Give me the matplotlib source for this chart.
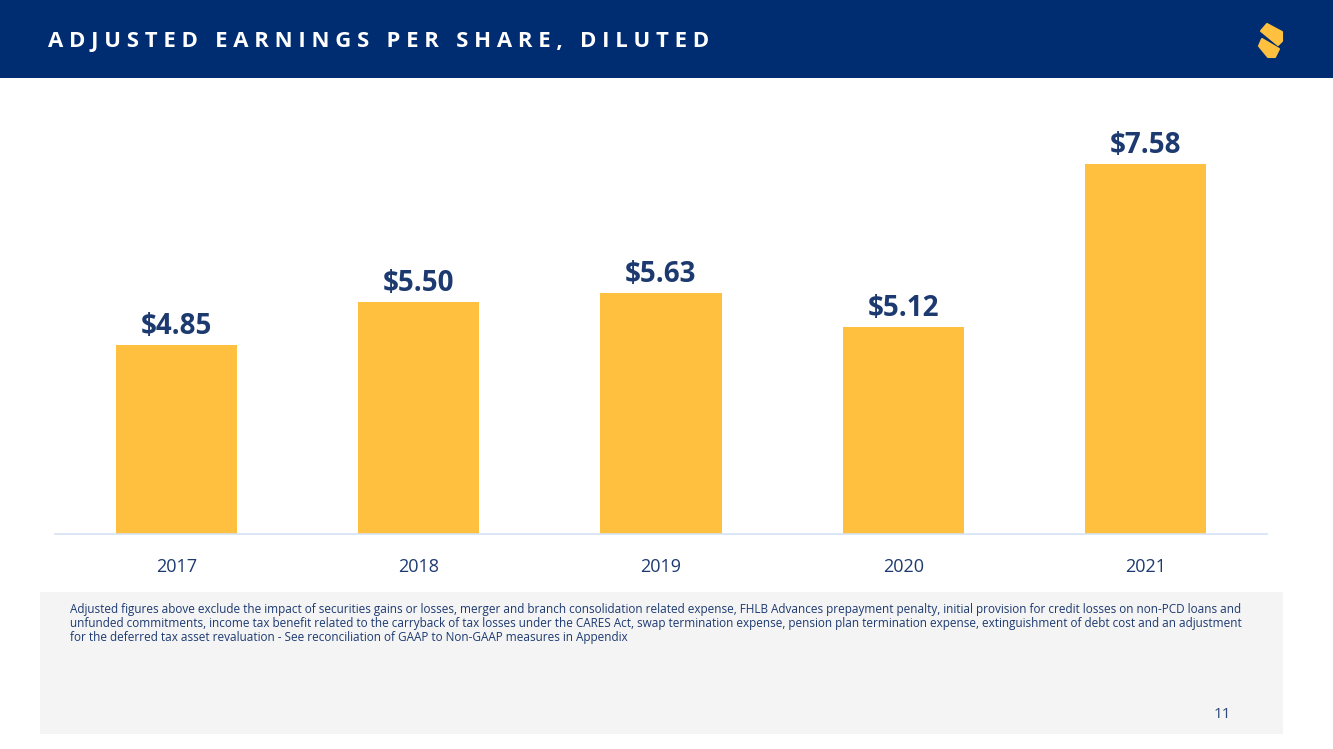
import matplotlib.pyplot as plt
from matplotlib.patches import Rectangle, Polygon

plt.rcParams['font.family'] = ['Open Sans', 'DejaVu Sans']

years = ["2017", "2018", "2019", "2020", "2021"]
eps = [4.85, 5.50, 5.63, 5.12, 7.58]
labels = ["$4.85", "$5.50", "$5.63", "$5.12", "$7.58"]

title = "A D J U S T E D   E A R N I N G S   P E R   S H A R E ,   D I L U T E D"
note = ("Adjusted figures above exclude the impact of securities gains or losses, merger and branch consolidation related expense, "
        "FHLB Advances prepayment penalty, initial provision for credit losses on non-PCD loans and\n"
        "unfunded commitments, income tax benefit related to the carryback of tax losses under the CARES Act, swap termination "
        "expense, pension plan termination expense, extinguishment of debt cost and an adjustment\n"
        "for the deferred tax asset revaluation - See reconciliation of GAAP to Non-GAAP measures in Appendix")

navy = "#002d72"
gold = "#ffc03f"
text_navy = "#1d3a70"

W, H = 1333, 749
fig = plt.figure(figsize=(W / 100, H / 100), dpi=100)
fig.patch.set_facecolor("white")

# header band
fig.patches.append(Rectangle((0, 1 - 78 / H), 1, 78 / H, transform=fig.transFigure,
                             facecolor=navy, edgecolor="none", zorder=0))
fig.text(48 / W, 1 - 42 / H, title, color="white", fontsize=15.9, fontweight="bold",
         va="center", ha="left")

# logo (stylised S)
def px(x, y):
    return (x / W, 1 - y / H)

logo_top = [px(1261, 31), px(1267, 24), px(1282, 32), px(1282, 41), px(1278, 45)]
logo_bot = [px(1259, 46), px(1262, 39), px(1279, 49), px(1275, 57), px(1268, 57)]
for pts in (logo_top, logo_bot):
    fig.patches.append(Polygon(pts, closed=True, transform=fig.transFigure,
                               facecolor=gold, edgecolor=gold, joinstyle="round", lw=1.5))

# chart
ax = fig.add_axes([55 / W, 1 - 534 / H, 1212 / W, 434 / H])
x = range(len(years))
bars = ax.bar(x, eps, width=0.5, color=gold)
ax.set_ylim(2.0, 8.55)
ax.set_xlim(-0.5, 4.5)
for b, lab in zip(bars, labels):
    ax.annotate(lab, (b.get_x() + b.get_width() / 2, b.get_height()),
                xytext=(0, 3), textcoords="offset points", ha="center", va="bottom",
                fontsize=20, fontweight="bold", color=text_navy)
ax.set_xticks(list(x))
ax.set_xticklabels(years, fontsize=13, color=text_navy)
ax.tick_params(axis="x", length=0, pad=17)
ax.set_yticks([])
for s in ["top", "left", "right"]:
    ax.spines[s].set_visible(False)
ax.spines["bottom"].set_color("#d6e2f5")
ax.spines["bottom"].set_linewidth(1.2)

# footnote panel
fig.patches.append(Rectangle((40 / W, 1 - 734 / H), 1243 / W, 142 / H, transform=fig.transFigure,
                             facecolor="#f4f4f5", edgecolor="none", zorder=0))
fig.text(70 / W, 1 - 603 / H, note, fontsize=8.5, color=text_navy, va="top", ha="left",
         linespacing=1.12)
fig.text(1222 / W, 1 - 714 / H, "11", fontsize=11, color="#2f4a78", ha="center", va="center")

fig.savefig("out.png", dpi=100)
